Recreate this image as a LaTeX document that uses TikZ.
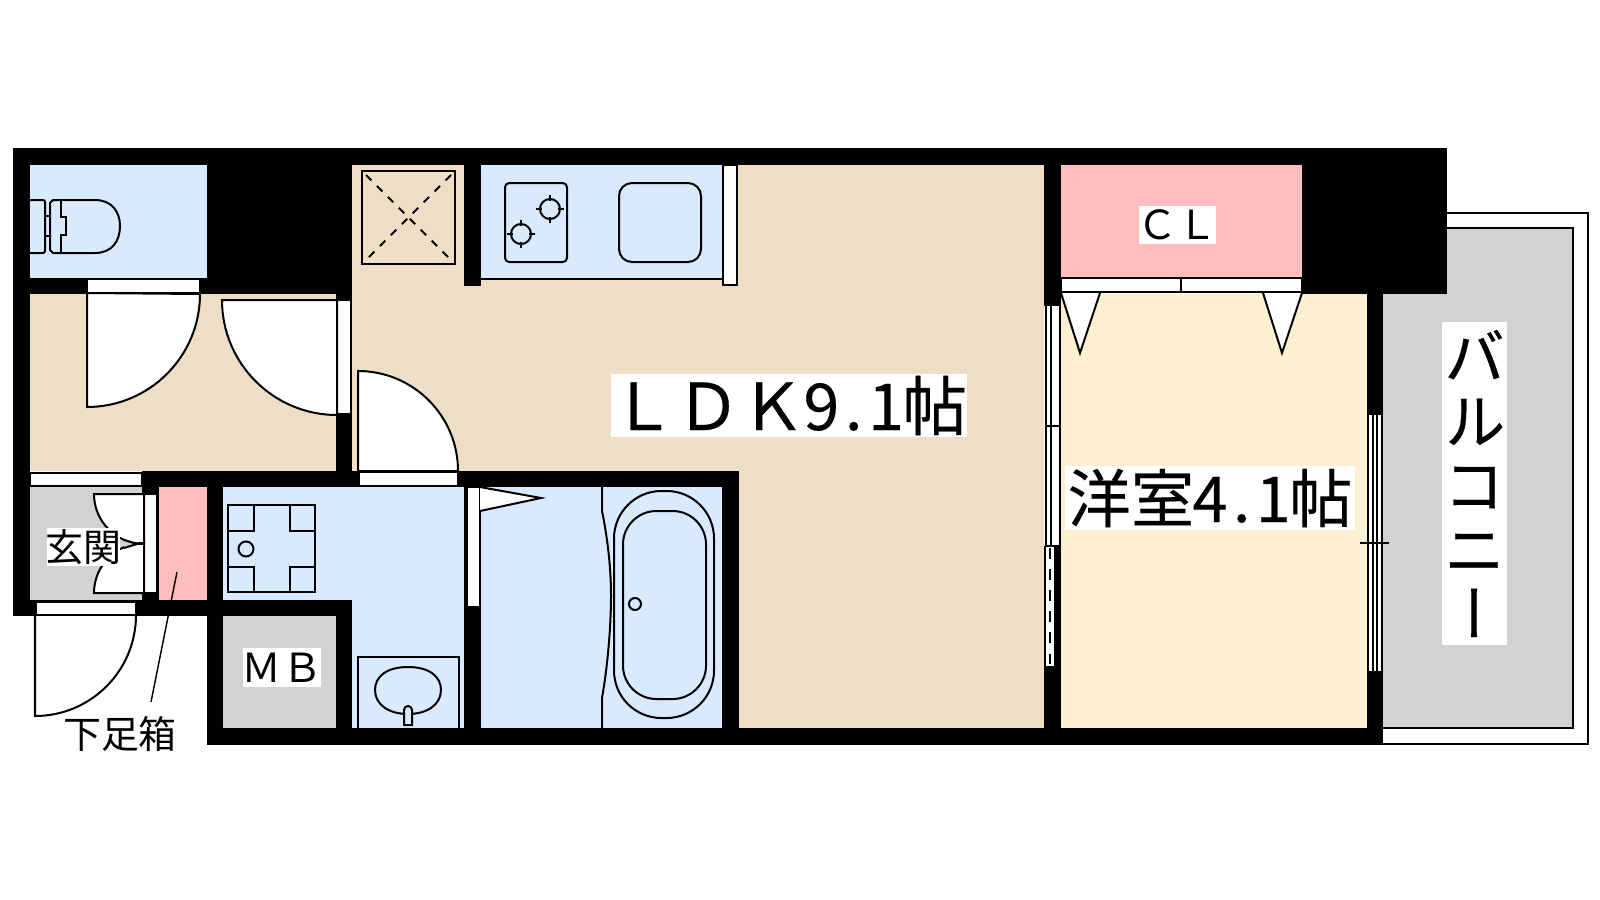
\documentclass[tikz,border=0pt]{standalone}
\usepackage{fontspec}
\setmainfont{Noto Sans CJK JP}
\newfontfamily\heavyfont[FakeBold=0.3]{Noto Sans CJK JP}
\newfontfamily\vertfont[RawFeature={+vert},FakeBold=0.3]{Noto Sans CJK JP}
\newcommand{\hw}[1]{\makebox[.5em][c]{#1}}
\definecolor{ldkbeige}{HTML}{EEDEC6}
\definecolor{wetblue}{HTML}{DAEAFE}
\definecolor{clpink}{HTML}{FFBDBD}
\definecolor{roomcream}{HTML}{FDF0D0}
\definecolor{floorgrey}{HTML}{D2D2D2}
\tikzset{
	wall/.style={fill=black},
	line/.style={draw=black, line width=0.2mm},
	thin line/.style={draw=black, line width=0.14mm},
	panel/.style={draw=black, fill=white, line width=0.2mm},
	label/.style={fill=white, inner sep=0pt, text=black, align=center},
}
\begin{document}
\begin{tikzpicture}[x=0.01cm, y=-0.01cm]
		\useasboundingbox (0, 0) rectangle (1600, 900);
		%%%%% START %%%%%
		
		% floors
		\fill[wetblue] (30, 165) rectangle (207, 278);
		\fill[ldkbeige] (30, 294) rectangle (336, 471);
		\fill[ldkbeige] (352, 165) rectangle (1044, 471);
		\fill[ldkbeige] (739, 471) rectangle (1044, 728);
		\fill[wetblue] (481, 165) rectangle (722, 279);
		\fill[floorgrey] (30, 487) rectangle (142, 600);
		\fill[clpink] (159, 487) rectangle (207, 600);
		\fill[wetblue] (223, 487) rectangle (464, 600);
		\fill[wetblue] (352, 600) rectangle (464, 728);
		\fill[wetblue] (481, 487) rectangle (722, 728);
		\fill[floorgrey] (223, 616) rectangle (336, 728);
		\fill[clpink] (1061, 165) rectangle (1302, 278);
		\fill[roomcream] (1061, 294) rectangle (1367, 728);
		
		% balcony
		\fill[floorgrey] (1383, 228) rectangle (1573, 728);
		\draw[line] (1447, 213) -- (1588, 213) -- (1588, 744) -- (1375, 744);
		\draw[line] (1447, 228) -- (1573, 228) -- (1573, 728) -- (1383, 728);
		
		% walls
		\fill[wall] (13, 148) rectangle (1447, 165);
		\fill[wall] (13, 148) rectangle (30, 616);
		\fill[wall] (13, 600) rectangle (207, 616);
		\fill[wall] (30, 278) rectangle (207, 294);
		\fill[wall] (207, 148) rectangle (352, 294);
		\fill[wall] (336, 294) rectangle (352, 300);
		\fill[wall] (336, 414) rectangle (352, 487);
		\fill[wall] (142, 471) rectangle (739, 487);
		\fill[wall] (142, 471) rectangle (159, 600);
		\fill[wall] (207, 471) rectangle (223, 745);
		\fill[wall] (207, 600) rectangle (352, 616);
		\fill[wall] (336, 600) rectangle (352, 745);
		\fill[wall] (207, 728) rectangle (1383, 745);
		\fill[wall] (464, 165) rectangle (481, 286);
		\fill[wall] (464, 471) rectangle (481, 745);
		\fill[wall] (722, 471) rectangle (739, 745);
		\fill[wall] (1044, 165) rectangle (1061, 306);
		\fill[wall] (1044, 546) rectangle (1061, 745);
		\fill[wall] (1302, 148) rectangle (1447, 294);
		\fill[wall] (1367, 294) rectangle (1383, 745);
		
		% door frames
		\draw[panel] (87, 279) rectangle (200, 293);
		\draw[panel] (337, 300) rectangle (351, 414);
		\draw[panel] (359, 472) rectangle (458, 486);
		\draw[panel] (30, 473) rectangle (142, 486);
		\draw[panel] (144, 494) rectangle (157, 593);
		\draw[panel] (36, 602) rectangle (136, 615);
		\draw[panel] (467, 487) rectangle (480, 607);
		\draw[panel] (723, 165) rectangle (737, 285);
		\draw[panel] (1061, 278) rectangle (1302, 292);
		\draw[line] (1181, 278) -- (1181, 292);
		
		% door leaves
		\draw[panel] (87, 293) -- (87, 407) arc (90:0:113) -- cycle;
		\draw[panel] (337, 300) -- (222, 300) arc (180:90:115) -- cycle;
		\draw[panel] (358, 471) -- (358, 371) arc (-90:0:100) -- cycle;
		\draw[line] (35, 615) -- (35, 716) arc (90:0:101);
		\draw[panel] (144, 494) -- (94, 494) arc (180:90:50) -- cycle;
		\draw[panel] (144, 593) -- (94, 593) arc (180:270:50) -- cycle;
		\draw[panel] (480, 487) -- (541, 498) -- (480, 511);
		\draw[panel] (1061, 293) -- (1080, 353) -- (1100, 293);
		\draw[panel] (1263, 293) -- (1282, 353) -- (1302, 293);
		
		% windows
		\fill[white] (1046, 306) rectangle (1060, 546);
		\draw[thin line] (1046, 306) -- (1046, 546);
		\draw[thin line] (1051, 306) -- (1051, 546);
		\draw[thin line] (1060, 306) -- (1060, 546);
		\draw[thin line] (1046, 426) -- (1060, 426);
		\draw[thin line] (1046, 546) -- (1060, 546);
		\fill[white] (1046, 547) rectangle (1054, 666);
		\draw[thin line, dashed] (1050, 548) -- (1050, 666);
		\fill[white] (1368, 415) rectangle (1382, 671);
		\draw[thin line] (1368, 415) -- (1368, 671);
		\draw[thin line] (1373, 415) -- (1373, 671);
		\draw[thin line] (1377, 415) -- (1377, 671);
		\draw[thin line] (1382, 415) -- (1382, 671);
		\draw[thin line] (1360, 543) -- (1389, 543);
		\draw[thin line] (1373, 535) -- (1373, 545);
		\draw[thin line] (1377, 541) -- (1377, 551);
		
		% toilet
		\draw[line, rounded corners=0.6pt] (30, 200) -- (45, 200) -- (45, 253) -- (30, 253);
		\draw[line] (45, 216) rectangle (50, 236);
		\draw[line] (95, 253) -- (53, 253) -- (50, 250) -- (50, 203) -- (53, 200) -- (95, 200)
			.. controls (112, 200) and (120, 212) .. (120, 226)
			.. controls (120, 241) and (112, 253) .. (95, 253);
		\draw[line] (61, 200) -- (61, 217) -- (66, 217) -- (66, 235) -- (61, 235) -- (61, 253);
		
		% shaft
		\draw[line] (362, 171) rectangle (455, 264);
		\draw[line, dash pattern=on 2.2pt off 2.2pt] (366, 175) -- (451, 260);
		\draw[line, dash pattern=on 2.2pt off 2.2pt] (451, 175) -- (366, 260);
		
		% kitchen
		\draw[line] (481, 279) -- (722, 279);
		\draw[line, rounded corners=1.2pt] (505, 183) rectangle (567, 262);
		\foreach \cx/\cy in {550/209, 521/234} {
			\draw[line] (\cx, \cy) circle (10);
			\draw[line] (\cx-14, \cy) -- (\cx-8, \cy);
			\draw[line] (\cx+8, \cy) -- (\cx+14, \cy);
			\draw[line] (\cx, \cy-14) -- (\cx, \cy-8);
			\draw[line] (\cx, \cy+8) -- (\cx, \cy+14);
		}
		\draw[line, rounded corners=3.7pt] (619, 183) rectangle (701, 262);
		
		% washer pan
		\draw[line] (228, 505) rectangle (315, 592);
		\draw[line] (228, 505) rectangle (254, 531);
		\draw[line] (290, 505) rectangle (315, 531);
		\draw[line] (228, 567) rectangle (254, 592);
		\draw[line] (290, 567) rectangle (315, 592);
		\draw[line] (246, 549) circle (7.5);
		
		% wash basin
		\draw[line] (358, 728) -- (358, 657) -- (459, 657) -- (459, 728);
		\draw[line] (408, 667)
			.. controls (430, 667) and (441, 677) .. (441, 690)
			.. controls (441, 704) and (428, 714) .. (408, 714)
			.. controls (388, 714) and (375, 704) .. (375, 690)
			.. controls (375, 677) and (386, 667) .. (408, 667);
		\draw[line, fill=wetblue] (404, 725) -- (404, 710) arc (180:360:4) -- (412, 725) -- cycle;
		
		% bath
		\draw[line] (602, 487) -- (602, 511)
			.. controls (608, 540) and (611, 570) .. (611, 595)
			.. controls (611, 630) and (607, 670) .. (602, 698) -- (602, 728);
		\draw[line, rounded corners=13.5pt] (614, 491) rectangle (714, 718);
		\draw[line, rounded corners=9.5pt] (623, 511) rectangle (706, 699);
		\draw[line] (635, 604) circle (6);
		
		% entry pointer and leader
		\draw[line, fill=floorgrey] (124, 540) -- (137, 544) -- (124, 548);
		\draw[line] (137, 544) -- (145, 544);
		\draw[thin line] (177, 572) -- (151, 702);
		
		% labels
		\node[label, minimum width=354*0.2845pt, minimum height=63*0.2845pt, font=\fontsize{18.4}{18.4}\heavyfont] (ldklabel) at (789, 405.5) {ＬＤＫ\hw{9}\hw{.}\hw{1}帖};
		\node[label, minimum width=290*0.2845pt, minimum height=64*0.2845pt, inner xsep=-1pt, font=\fontsize{18}{18}\heavyfont] (roomlabel) at (1210, 498) {洋室\hw{4}\hw{.}\hw{1}帖};
		\node[label, minimum width=77*0.2845pt, minimum height=38*0.2845pt, inner xsep=-0.5pt, font=\fontsize{11.4}{11.4}\selectfont] (cllabel) at (1177.5, 225) {ＣＬ};
		\node[label, minimum width=78*0.2845pt, minimum height=39*0.2845pt, inner xsep=-0.5pt, font=\fontsize{11.4}{11.4}\selectfont] (mblabel) at (282, 667.5) {ＭＢ};
		\node[label, minimum width=73*0.2845pt, minimum height=38*0.2845pt, inner xsep=-0.5pt, font=\fontsize{10.8}{10.8}\selectfont] (genkanlabel) at (83.5, 547) {玄関};
		\node[inner sep=0pt, font=\fontsize{10.8}{10.8}\selectfont] (getabako) at (120, 734) {下足箱};
		\node[label, minimum width=65*0.2845pt, minimum height=323*0.2845pt, font=\fontsize{17.5}{18.3}\vertfont] (balconylabel) at (1474.5, 483.5) {バ\\ル\\コ\\ニ\\ー};
		
		%%%%% END %%%%%
	\end{tikzpicture}
\end{document}
